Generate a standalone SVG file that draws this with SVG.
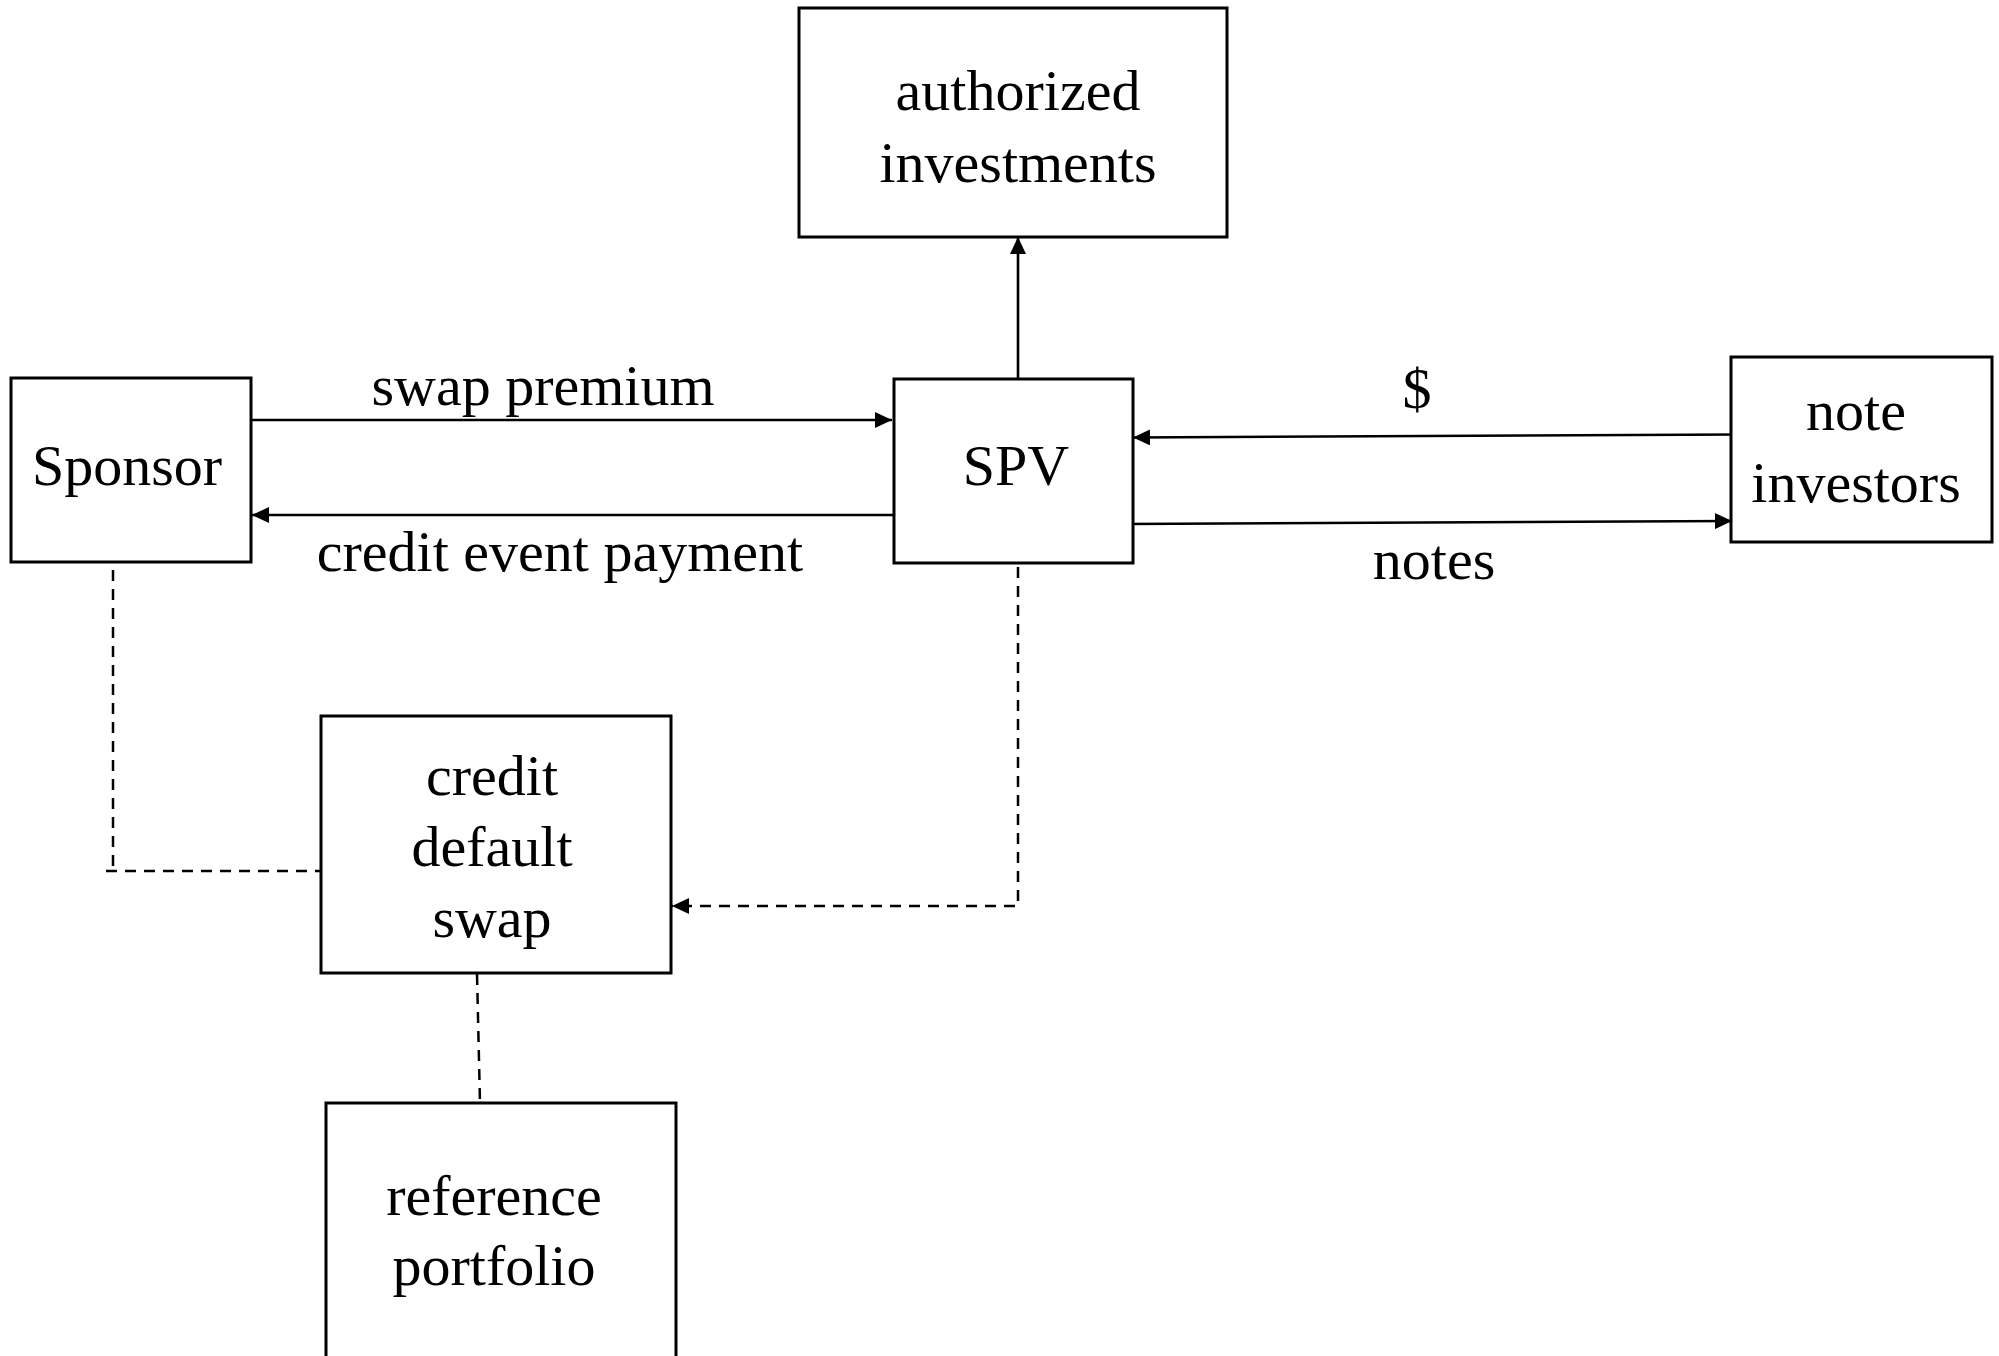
<svg xmlns="http://www.w3.org/2000/svg" width="1999" height="1356" viewBox="0 0 1999 1356">
<style>
.box{fill:#fff;stroke:#000;stroke-width:3}
.t{font-family:"Liberation Serif","Times New Roman",serif;font-size:58px;fill:#000;text-anchor:middle}
.ln{fill:none;stroke:#000;stroke-width:2.6}
.dash{fill:none;stroke:#000;stroke-width:2.5;stroke-dasharray:11 8}
</style>
<defs>
<marker id="ah" markerUnits="userSpaceOnUse" markerWidth="17" markerHeight="16" refX="17" refY="8" orient="auto">
<path d="M0,0 L17,8 L0,16 z" fill="#000"/>
</marker>
</defs>
<rect width="1999" height="1356" fill="#fff"/>
<g id="connectors">
<path class="ln" d="M249,420 L892,420" marker-end="url(#ah)"/>
<path class="ln" d="M893,515 L252,515" marker-end="url(#ah)"/>
<path class="ln" d="M1018,379 L1018,237" marker-end="url(#ah)"/>
<path class="ln" d="M1739,434.5 L1133,437.5" marker-end="url(#ah)"/>
<path class="ln" d="M1126,524 L1732,521" marker-end="url(#ah)"/>
<path class="dash" d="M113,570 V871 M106,871 H320"/>
<path class="dash" d="M1018,567 V906 H672" marker-end="url(#ah)"/>
<path class="dash" d="M477,974 L480,1103"/>
<text class="t" x="543" y="405">swap premium</text>
<text class="t" x="560" y="571">credit event payment</text>
<text class="t" x="1417" y="408">$</text>
<text class="t" x="1434" y="579">notes</text>
</g>
<g id="authorized">
<rect class="box" x="799" y="8" width="428" height="229"/>
<text class="t" x="1018" y="110">authorized</text>
<text class="t" x="1018" y="182">investments</text>
</g>
<g id="sponsor">
<rect class="box" x="11" y="378" width="240" height="184"/>
<text class="t" x="127" y="485">Sponsor</text>
</g>
<g id="spv">
<rect class="box" x="894" y="379" width="239" height="184"/>
<text class="t" x="1016" y="485">SPV</text>
</g>
<g id="noteinvestors">
<rect class="box" x="1731" y="357" width="261" height="185"/>
<text class="t" x="1856" y="430">note</text>
<text class="t" x="1856" y="502">investors</text>
</g>
<g id="cds">
<rect class="box" x="321" y="716" width="350" height="257"/>
<text class="t" x="492" y="795">credit</text>
<text class="t" x="492" y="866">default</text>
<text class="t" x="492" y="937">swap</text>
</g>
<g id="refportfolio">
<rect class="box" x="326" y="1103" width="350" height="270"/>
<text class="t" x="494" y="1215">reference</text>
<text class="t" x="494" y="1285">portfolio</text>
</g>
</svg>
